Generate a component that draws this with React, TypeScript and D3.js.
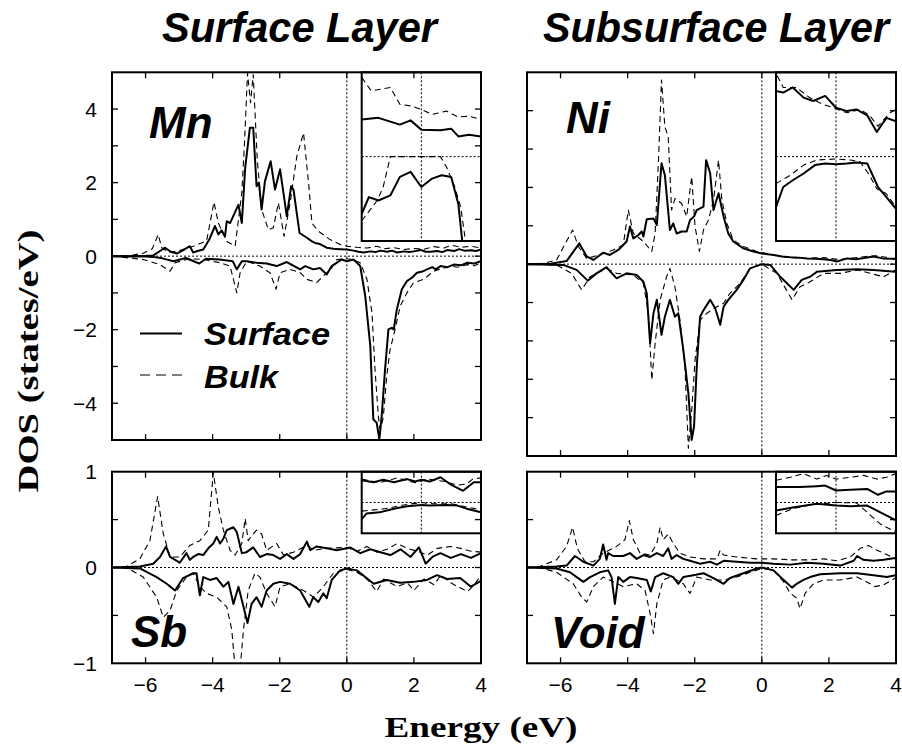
import React from 'react';
import * as d3 from 'd3';

type P = [number, number];

// ---------- tick values / labels ----------
const energyTicks = [-6, -4, -2, 0, 2, 4];
const upperDosTicks = [-4, -3, -2, -1, 0, 1, 2, 3, 4];
const upperDosLabels = [4, 2, 0, -2, -4];
const lowerDosTicks = [-0.5, 0, 0.5];
const lowerDosLabels = [1, 0, -1];
const columnTitles = ['Surface Layer', 'Subsurface Layer'];
const legendLabels = ['Surface', 'Bulk'];
const panelNames = ['Mn', 'Ni', 'Sb', 'Void'];

// ---------- Mn (surface layer, top) ----------
const mnUpSurface: P[] = [[-7,0],[-6.5,0],[-6.0,0.01],[-5.77,0.02],[-5.6,0.12],[-5.42,0.23],[-5.25,0.12],[-5.07,0.07],[-4.9,0.15],[-4.68,0.27],[-4.58,0.1],[-4.45,0.14],[-4.28,0.18],[-4.1,0.45],[-3.93,0.82],[-3.83,0.59],[-3.73,0.7],[-3.63,0.54],[-3.58,0.95],[-3.48,0.9],[-3.23,1.4],[-3.13,0.9],[-3.03,2.4],[-2.89,3.49],[-2.79,3.49],[-2.69,1.9],[-2.62,2.0],[-2.54,1.27],[-2.44,2.04],[-2.27,2.58],[-2.14,1.81],[-1.99,2.36],[-1.79,1.09],[-1.66,1.9],[-1.59,1.81],[-1.41,0.63],[-1.19,0.5],[-1.05,0.41],[-0.95,0.36],[-0.8,0.33],[-0.6,0.23],[-0.4,0.2],[-0.2,0.19],[0,0.18],[0.2,0.15],[0.35,0.12],[0.5,0.1],[0.7,0.13],[0.85,0.11],[1.0,0.15],[1.2,0.12],[1.35,0.15],[1.5,0.1],[1.7,0.13],[1.85,0.11],[2.0,0.13],[2.2,0.17],[2.35,0.12],[2.5,0.12],[2.7,0.14],[2.85,0.11],[3.0,0.17],[3.2,0.14],[3.35,0.19],[3.5,0.15],[3.7,0.16],[3.85,0.14],[4.0,0.18]];
const mnUpBulk: P[] = [[-7,0],[-6.5,0.01],[-6.07,0.08],[-5.8,0.2],[-5.62,0.59],[-5.52,0.23],[-5.3,0.1],[-5.0,0.15],[-4.58,0.27],[-4.18,0.41],[-3.96,1.47],[-3.83,0.9],[-3.58,0.4],[-3.33,0.27],[-3.13,1.72],[-3.05,3.08],[-2.96,4.98],[-2.87,4.17],[-2.79,4.94],[-2.67,2.63],[-2.54,1.27],[-2.34,0.72],[-2.19,0.77],[-2.04,1.45],[-1.87,0.54],[-1.69,1.45],[-1.49,2.72],[-1.29,3.35],[-1.14,1.99],[-1.04,0.9],[-0.85,0.68],[-0.5,0.45],[-0.2,0.32],[0,0.27],[0.3,0.24],[0.6,0.22],[0.9,0.27],[1.1,0.2],[1.4,0.23],[1.7,0.18],[2.0,0.21],[2.3,0.19],[2.6,0.26],[2.9,0.22],[3.1,0.3],[3.4,0.24],[3.7,0.27],[4.0,0.22]];
const mnDownSurface: P[] = [[-7,0],[-6.0,-0.01],[-5.77,-0.02],[-5.5,-0.06],[-5.17,-0.14],[-4.8,-0.05],[-4.4,-0.2],[-4.2,-0.07],[-3.8,-0.09],[-3.4,-0.14],[-3.28,-0.36],[-3.13,-0.14],[-2.98,-0.14],[-2.69,-0.18],[-2.39,-0.2],[-2.09,-0.27],[-1.79,-0.16],[-1.39,-0.36],[-1.24,-0.27],[-1.0,-0.36],[-0.8,-0.32],[-0.6,-0.5],[-0.45,-0.27],[-0.15,-0.09],[0,-0.14],[0.2,-0.09],[0.4,-0.27],[0.55,-1.09],[0.7,-2.45],[0.79,-4.44],[0.89,-4.53],[0.97,-4.98],[1.04,-4.35],[1.14,-3.08],[1.24,-1.99],[1.34,-1.95],[1.4,-1.99],[1.49,-1.45],[1.64,-0.9],[1.79,-0.68],[1.95,-0.58],[2.09,-0.45],[2.25,-0.42],[2.39,-0.36],[2.55,-0.3],[2.65,-0.36],[2.79,-0.27],[3.0,-0.3],[3.19,-0.23],[3.4,-0.25],[3.59,-0.18],[3.8,-0.2],[4.0,-0.14]];
const mnDownBulk: P[] = [[-7,0],[-6.07,-0.09],[-5.57,-0.23],[-5.27,-0.41],[-5.12,-0.18],[-4.68,-0.07],[-4.28,-0.09],[-3.78,-0.18],[-3.48,-0.27],[-3.28,-1.0],[-3.18,-0.45],[-2.98,-0.14],[-2.59,-0.27],[-2.29,-0.45],[-2.11,-0.9],[-1.99,-0.45],[-1.69,-0.36],[-1.39,-0.45],[-1.19,-0.63],[-0.9,-0.72],[-0.7,-0.54],[-0.45,-0.32],[-0.3,-0.09],[0,-0.07],[0.2,-0.1],[0.4,-0.18],[0.6,-0.63],[0.75,-1.54],[0.84,-3.08],[0.94,-4.35],[0.99,-4.71],[1.04,-4.6],[1.09,-4.35],[1.19,-3.26],[1.29,-2.54],[1.44,-1.99],[1.59,-1.36],[1.79,-1.0],[1.99,-0.72],[2.29,-0.63],[2.59,-0.41],[2.8,-0.35],[3.09,-0.27],[3.3,-0.3],[3.59,-0.23],[3.8,-0.26],[4.0,-0.18]];

// ---------- Ni (subsurface layer, top) ----------
const niUpSurface: P[] = [[-7,0],[-6.3,0.01],[-5.82,0.08],[-5.44,0.54],[-5.22,0.2],[-5.02,0.11],[-4.73,0.3],[-4.53,0.24],[-4.28,0.37],[-4.03,0.59],[-3.93,0.98],[-3.83,0.67],[-3.68,0.76],[-3.58,0.85],[-3.53,0.72],[-3.43,1.17],[-3.23,1.19],[-3.13,1.02],[-2.99,2.63],[-2.89,2.32],[-2.74,0.89],[-2.64,1.06],[-2.54,0.8],[-2.39,0.85],[-2.24,0.85],[-2.14,1.15],[-2.02,1.24],[-1.94,1.41],[-1.74,1.5],[-1.66,2.71],[-1.54,2.37],[-1.44,1.41],[-1.29,1.85],[-1.14,1.24],[-1.0,0.8],[-0.85,0.59],[-0.55,0.41],[-0.25,0.33],[0,0.28],[0.35,0.24],[0.6,0.2],[0.85,0.18],[1.1,0.17],[1.34,0.15],[1.6,0.14],[1.84,0.13],[2.05,0.11],[2.24,0.07],[2.54,0.15],[2.8,0.13],[3.05,0.16],[3.33,0.2],[3.6,0.15],[3.98,0.14]];
const niUpBulk: P[] = [[-7,0],[-6.5,0.02],[-6.12,0.11],[-5.64,0.89],[-5.47,0.46],[-5.22,0.15],[-4.83,0.24],[-4.43,0.37],[-4.13,0.5],[-3.98,1.41],[-3.83,0.8],[-3.53,0.59],[-3.28,0.33],[-3.18,0.8],[-3.08,2.71],[-2.99,4.8],[-2.89,3.58],[-2.79,3.32],[-2.69,1.41],[-2.59,1.71],[-2.39,1.58],[-2.24,1.24],[-2.09,2.28],[-1.99,0.98],[-1.86,0.33],[-1.74,0.89],[-1.59,1.15],[-1.44,1.67],[-1.29,2.71],[-1.19,1.67],[-1.04,1.06],[-0.85,0.63],[-0.55,0.46],[-0.15,0.33],[0.35,0.24],[0.8,0.18],[1.3,0.15],[1.84,0.17],[2.3,0.12],[2.7,0.16],[3.1,0.2],[3.4,0.22],[3.7,0.18],[3.98,0.12]];
const niDownSurface: P[] = [[-7,0],[-5.92,-0.02],[-5.52,-0.15],[-5.19,-0.43],[-4.93,-0.24],[-4.63,-0.08],[-4.33,-0.37],[-4.03,-0.24],[-3.73,-0.28],[-3.53,-0.46],[-3.43,-0.76],[-3.33,-2.06],[-3.23,-1.28],[-3.13,-0.93],[-2.99,-1.84],[-2.89,-1.37],[-2.74,-0.93],[-2.59,-1.37],[-2.49,-1.28],[-2.34,-2.24],[-2.19,-3.36],[-2.09,-4.58],[-2.02,-4.23],[-1.94,-2.67],[-1.84,-1.37],[-1.74,-1.2],[-1.54,-0.93],[-1.39,-1.15],[-1.24,-1.58],[-1.14,-1.11],[-1.0,-0.93],[-0.75,-0.67],[-0.55,-0.41],[-0.35,-0.11],[0,0],[0.25,-0.02],[0.55,-0.33],[0.95,-0.67],[1.19,-0.41],[1.44,-0.33],[1.64,-0.2],[2.24,-0.15],[2.84,-0.13],[3.33,-0.15],[3.98,-0.2]];
const niDownBulk: P[] = [[-7,0],[-6.12,-0.02],[-5.67,-0.24],[-5.37,-0.67],[-5.12,-0.33],[-4.63,-0.11],[-4.33,-0.24],[-3.83,-0.28],[-3.53,-0.5],[-3.38,-1.28],[-3.28,-3.02],[-3.18,-2.06],[-3.03,-0.93],[-2.84,-0.33],[-2.74,-0.11],[-2.59,-0.59],[-2.44,-1.46],[-2.29,-2.67],[-2.19,-4.8],[-2.09,-3.8],[-1.99,-2.5],[-1.84,-1.46],[-1.64,-1.28],[-1.34,-1.11],[-1.14,-1.02],[-0.95,-0.76],[-0.65,-0.5],[-0.35,-0.11],[0,0],[0.45,-0.24],[0.9,-0.93],[1.14,-0.59],[1.44,-0.46],[1.84,-0.24],[2.34,-0.24],[2.84,-0.15],[3.63,-0.33],[3.98,-0.15]];

// ---------- Sb (surface layer, bottom) ----------
const sbUpSurface: P[] = [[-7,0],[-6.17,0.01],[-5.77,0.04],[-5.57,0.11],[-5.39,0.22],[-5.27,0.11],[-4.98,0.05],[-4.78,0.15],[-4.68,0.08],[-4.58,0.11],[-4.43,0.14],[-4.28,0.13],[-4.13,0.2],[-3.98,0.25],[-3.88,0.32],[-3.78,0.25],[-3.68,0.3],[-3.58,0.39],[-3.38,0.42],[-3.28,0.37],[-3.13,0.15],[-2.99,0.16],[-2.79,0.21],[-2.59,0.11],[-2.39,0.14],[-2.19,0.13],[-1.99,0.09],[-1.79,0.14],[-1.59,0.09],[-1.39,0.14],[-1.19,0.27],[-1.09,0.18],[-0.9,0.22],[-0.6,0.2],[-0.3,0.18],[0,0.2],[0.1,0.21],[0.4,0.15],[0.7,0.19],[1.0,0.16],[1.3,0.13],[1.6,0.19],[1.9,0.11],[2.15,0.21],[2.35,0.04],[2.55,0.11],[2.79,0.15],[3.1,0.1],[3.4,0.14],[3.7,0.1],[4.0,0.15]];
const sbUpBulk: P[] = [[-7,0],[-6.57,0.01],[-6.17,0.09],[-5.87,0.28],[-5.64,0.74],[-5.47,0.35],[-5.27,0.11],[-4.98,0.11],[-4.68,0.23],[-4.38,0.28],[-4.13,0.39],[-3.98,0.99],[-3.83,0.63],[-3.68,0.39],[-3.48,0.18],[-3.33,0.13],[-3.13,0.25],[-3.03,0.51],[-2.94,0.28],[-2.79,0.35],[-2.69,0.39],[-2.54,0.35],[-2.39,0.18],[-2.09,0.25],[-1.89,0.13],[-1.59,0.16],[-1.19,0.23],[-0.99,0.18],[-0.6,0.2],[0,0.21],[0.3,0.17],[0.6,0.22],[0.9,0.16],[1.2,0.19],[1.5,0.25],[1.8,0.2],[2.1,0.17],[2.4,0.13],[2.7,0.2],[3.1,0.22],[3.4,0.2],[3.7,0.17],[4.0,0.16]];
const sbDownSurface: P[] = [[-7,0],[-6.17,-0.01],[-5.67,-0.1],[-5.37,-0.17],[-5.12,-0.24],[-4.88,-0.11],[-4.58,-0.06],[-4.48,-0.06],[-4.38,-0.29],[-4.28,-0.1],[-4.08,-0.13],[-3.88,-0.11],[-3.68,-0.2],[-3.53,-0.15],[-3.38,-0.38],[-3.23,-0.2],[-3.08,-0.41],[-2.96,-0.58],[-2.84,-0.38],[-2.69,-0.31],[-2.54,-0.41],[-2.39,-0.24],[-2.19,-0.17],[-1.99,-0.15],[-1.69,-0.17],[-1.39,-0.24],[-1.12,-0.41],[-1.0,-0.31],[-0.85,-0.36],[-0.7,-0.27],[-0.6,-0.32],[-0.45,-0.13],[-0.2,-0.03],[0,-0.01],[0.3,-0.03],[0.8,-0.17],[1.19,-0.13],[1.59,-0.16],[1.99,-0.15],[2.39,-0.13],[2.69,-0.08],[2.99,-0.12],[3.38,-0.11],[3.7,-0.2],[4.0,-0.14]];
const sbDownBulk: P[] = [[-7,0],[-6.57,0],[-6.07,-0.1],[-5.67,-0.31],[-5.47,-0.52],[-5.27,-0.45],[-5.07,-0.24],[-4.78,-0.1],[-4.58,-0.06],[-4.38,-0.2],[-4.18,-0.27],[-3.88,-0.31],[-3.58,-0.41],[-3.43,-0.65],[-3.33,-1.05],[-3.18,-1.05],[-3.08,-0.65],[-2.94,-0.24],[-2.74,-0.06],[-2.59,-0.1],[-2.39,-0.27],[-2.14,-0.41],[-1.99,-0.2],[-1.69,-0.17],[-1.29,-0.24],[-0.99,-0.31],[-0.7,-0.2],[-0.4,-0.06],[0,-0.02],[0.3,-0.05],[0.6,-0.12],[0.89,-0.25],[1.1,-0.12],[1.4,-0.18],[1.5,-0.2],[1.8,-0.16],[2.0,-0.24],[2.3,-0.12],[2.6,-0.18],[2.8,-0.08],[3.1,-0.16],[3.3,-0.2],[3.6,-0.25],[3.8,-0.18],[4.0,-0.08]];

// ---------- Void (subsurface layer, bottom) ----------
const voidUpSurface: P[] = [[-7,0],[-6.12,0.01],[-5.82,0.02],[-5.57,0.12],[-5.32,0.06],[-5.02,0.02],[-4.83,0.09],[-4.73,0.24],[-4.63,0.08],[-4.58,0.15],[-4.43,0.12],[-4.13,0.12],[-3.93,0.15],[-3.73,0.09],[-3.53,0.13],[-3.33,0.11],[-3.13,0.15],[-2.94,0.12],[-2.79,0.2],[-2.69,0.09],[-2.54,0.13],[-2.34,0.09],[-2.14,0.07],[-1.84,0.04],[-1.54,0.06],[-1.34,0.03],[-1.14,0.07],[-0.75,0.06],[-0.35,0.05],[0,0.05],[0.35,0.04],[0.85,0.03],[1.34,0.05],[1.84,0.04],[2.34,0.02],[2.74,0.07],[2.84,0.12],[3.03,0.08],[3.33,0.07],[3.63,0.08],[3.98,0.1]];
const voidUpBulk: P[] = [[-7,0],[-6.62,0.01],[-6.12,0.08],[-5.82,0.22],[-5.64,0.42],[-5.5,0.2],[-5.27,0.06],[-5.02,0.06],[-4.73,0.15],[-4.33,0.22],[-4.08,0.29],[-3.95,0.49],[-3.83,0.29],[-3.63,0.15],[-3.33,0.13],[-3.13,0.25],[-3.03,0.42],[-2.94,0.29],[-2.79,0.35],[-2.64,0.25],[-2.44,0.15],[-2.14,0.11],[-1.74,0.09],[-1.34,0.09],[-1.24,0.18],[-1.14,0.13],[-0.75,0.11],[-0.15,0.09],[0.35,0.09],[0.85,0.08],[1.44,0.08],[1.84,0.09],[2.24,0.07],[2.64,0.11],[2.94,0.2],[3.18,0.23],[3.43,0.18],[3.63,0.15],[3.98,0.09]];
const voidDownSurface: P[] = [[-7,0],[-6.12,-0.01],[-5.72,-0.05],[-5.32,-0.15],[-5.12,-0.1],[-4.83,-0.05],[-4.58,-0.03],[-4.48,-0.1],[-4.38,-0.38],[-4.28,-0.1],[-4.13,-0.15],[-3.93,-0.1],[-3.73,-0.11],[-3.43,-0.13],[-3.31,-0.25],[-3.18,-0.1],[-2.94,-0.06],[-2.64,-0.1],[-2.49,-0.17],[-2.34,-0.1],[-2.04,-0.08],[-1.74,-0.06],[-1.44,-0.11],[-1.14,-0.17],[-0.95,-0.11],[-0.55,-0.06],[-0.15,-0.01],[0,0],[0.35,-0.03],[0.65,-0.13],[0.9,-0.21],[1.04,-0.17],[1.24,-0.13],[1.44,-0.1],[1.74,-0.07],[2.34,-0.06],[2.84,-0.06],[3.33,-0.08],[3.73,-0.1],[3.98,-0.08]];
const voidDownBulk: P[] = [[-7,0],[-6.62,0],[-6.12,-0.05],[-5.62,-0.17],[-5.37,-0.31],[-5.22,-0.36],[-5.02,-0.2],[-4.73,-0.1],[-4.43,-0.15],[-4.13,-0.2],[-3.73,-0.17],[-3.48,-0.24],[-3.33,-0.48],[-3.23,-0.69],[-3.13,-0.38],[-2.94,-0.13],[-2.74,-0.1],[-2.54,-0.13],[-2.34,-0.17],[-2.14,-0.27],[-1.94,-0.1],[-1.54,-0.13],[-1.14,-0.13],[-0.75,-0.1],[-0.35,-0.05],[0,-0.01],[0.35,-0.03],[0.65,-0.15],[0.85,-0.27],[1.04,-0.32],[1.14,-0.43],[1.29,-0.27],[1.54,-0.17],[1.84,-0.13],[2.34,-0.13],[2.84,-0.1],[3.23,-0.17],[3.38,-0.2],[3.63,-0.18],[3.98,-0.11]];

// ---------- insets (zoom around the Fermi level) ----------
const mnInsetUpSurface: P[] = [[-0.5,0.22],[-0.36,0.23],[-0.18,0.19],[-0.09,0.215],[0,0.16],[0.16,0.156],[0.25,0.166],[0.31,0.12],[0.4,0.13],[0.5,0.12]];
const mnInsetUpBulk: P[] = [[-0.5,0.47],[-0.42,0.39],[-0.26,0.41],[-0.18,0.31],[-0.08,0.3],[0,0.28],[0.09,0.25],[0.21,0.27],[0.31,0.235],[0.4,0.24],[0.5,0.22]];
const mnInsetDownSurface: P[] = [[-0.5,-0.34],[-0.44,-0.24],[-0.36,-0.26],[-0.26,-0.23],[-0.18,-0.12],[-0.09,-0.09],[0,-0.18],[0.09,-0.13],[0.17,-0.11],[0.25,-0.12],[0.31,-0.28],[0.35,-0.55]];
const mnInsetDownBulk: P[] = [[-0.5,-0.38],[-0.37,-0.26],[-0.32,-0.18],[-0.28,-0.06],[-0.26,0],[0.16,0],[0.21,-0.06],[0.28,-0.18],[0.33,-0.3],[0.38,-0.55]];
const niInsetUpSurface: P[] = [[-0.5,0.39],[-0.44,0.38],[-0.36,0.41],[-0.27,0.35],[-0.19,0.33],[-0.09,0.36],[0,0.29],[0.09,0.27],[0.17,0.28],[0.26,0.245],[0.34,0.146],[0.42,0.23],[0.5,0.21]];
const niInsetUpBulk: P[] = [[-0.49,0.48],[-0.44,0.41],[-0.33,0.41],[-0.22,0.35],[-0.11,0.31],[-0.02,0.29],[0.09,0.26],[0.2,0.28],[0.28,0.245],[0.35,0.18],[0.45,0.26],[0.5,0.28]];
const niInsetDownSurface: P[] = [[-0.5,-0.3],[-0.44,-0.18],[-0.36,-0.14],[-0.27,-0.1],[-0.175,-0.05],[-0.09,-0.04],[0,-0.045],[0.09,-0.04],[0.17,-0.034],[0.26,-0.04],[0.35,-0.18],[0.42,-0.24],[0.5,-0.31]];
const niInsetDownBulk: P[] = [[-0.5,-0.16],[-0.38,-0.11],[-0.27,-0.05],[-0.16,-0.02],[0,-0.014],[0.12,-0.02],[0.2,-0.03],[0.27,-0.1],[0.34,-0.19],[0.42,-0.22],[0.5,-0.3]];
const sbInsetUpSurface: P[] = [[-0.5,0.36],[-0.4,0.33],[-0.32,0.37],[-0.23,0.33],[-0.12,0.38],[-0.05,0.34],[0,0.37],[0.07,0.34],[0.16,0.41],[0.24,0.3],[0.35,0.19],[0.44,0.33],[0.5,0.33]];
const sbInsetUpBulk: P[] = [[-0.5,0.38],[-0.35,0.32],[-0.2,0.4],[-0.05,0.32],[0.05,0.38],[0.2,0.34],[0.3,0.28],[0.38,0.3],[0.43,0.38],[0.5,0.4]];
const sbInsetDownSurface: P[] = [[-0.5,-0.27],[-0.46,-0.18],[-0.35,-0.16],[-0.23,-0.1],[-0.12,-0.06],[0,-0.04],[0.07,-0.05],[0.21,-0.04],[0.3,-0.05],[0.38,-0.1],[0.5,-0.16]];
const sbInsetDownBulk: P[] = [[-0.5,-0.14],[-0.4,-0.12],[-0.3,-0.1],[-0.15,-0.04],[0,0],[0.1,-0.02],[0.25,-0.02],[0.35,-0.06],[0.45,-0.1],[0.5,-0.12]];
const voidInsetUpSurface: P[] = [[-0.5,0.25],[-0.3,0.25],[-0.16,0.265],[-0.09,0.275],[0,0.195],[0.12,0.205],[0.26,0.22],[0.35,0.125],[0.42,0.18],[0.5,0.18]];
const voidInsetUpBulk: P[] = [[-0.5,0.36],[-0.38,0.41],[-0.27,0.47],[-0.16,0.38],[-0.08,0.44],[0,0.38],[0.12,0.41],[0.23,0.44],[0.34,0.38],[0.42,0.41],[0.5,0.47]];
const voidInsetDownSurface: P[] = [[-0.5,-0.13],[-0.36,-0.08],[-0.16,-0.02],[0,-0.05],[0.12,-0.06],[0.26,-0.05],[0.37,-0.16],[0.5,-0.29]];
const voidInsetDownBulk: P[] = [[-0.5,-0.21],[-0.36,-0.1],[-0.22,-0.04],[0,0],[0.17,-0.005],[0.26,-0.16],[0.37,-0.35],[0.5,-0.48]];

type Box = { x0: number; x1: number; y0: number; y1: number };
type SeriesSet = { upS: P[]; upB: P[]; dnS: P[]; dnB: P[] };

const FONT_SANS = '"Liberation Sans", Arial, Helvetica, sans-serif';
const FONT_SERIF = '"Liberation Serif", "Times New Roman", serif';
const DASH = '6,4';
const DOT = '2,2';

function Curves({ s, xs, ys, clip }: { s: SeriesSet; xs: any; ys: any; clip: string }) {
  const line = d3.line<P>().x(d => xs(d[0])).y(d => ys(d[1]));
  return (
    <g clipPath={`url(#${clip})`} fill="none" stroke="#000" strokeLinejoin="round">
      <path d={line(s.upB) || ''} strokeWidth={1.1} strokeDasharray={DASH} />
      <path d={line(s.dnB) || ''} strokeWidth={1.1} strokeDasharray={DASH} />
      <path d={line(s.upS) || ''} strokeWidth={2} />
      <path d={line(s.dnS) || ''} strokeWidth={2} />
    </g>
  );
}

function Panel(props: {
  id: string; box: Box; yDomain: [number, number]; yTicks: number[]; yLabels?: number[];
  xLabels: boolean; series: SeriesSet; inset: { box: Box; series: SeriesSet };
  name: string; nameX: number; nameY: number; legend?: boolean;
}) {
  const { id, box, yDomain, yTicks, yLabels, xLabels, series, inset, name, nameX, nameY, legend } = props;
  const xs = d3.scaleLinear().domain([-7, 4]).range([box.x0, box.x1]);
  const ys = d3.scaleLinear().domain(yDomain).range([box.y1, box.y0]);
  const ixs = d3.scaleLinear().domain([-0.5, 0.5]).range([inset.box.x0, inset.box.x1]);
  const iys = d3.scaleLinear().domain([-0.5, 0.5]).range([inset.box.y1, inset.box.y0]);
  const T = 6;
  const allYTicks = [...yTicks];
  return (
    <g>
      <defs>
        <clipPath id={`${id}-clip`}>
          <rect x={box.x0} y={box.y0} width={box.x1 - box.x0} height={box.y1 - box.y0} />
        </clipPath>
        <clipPath id={`${id}-iclip`}>
          <rect x={inset.box.x0} y={inset.box.y0} width={inset.box.x1 - inset.box.x0} height={inset.box.y1 - inset.box.y0} />
        </clipPath>
      </defs>
      {/* zero lines */}
      <line x1={box.x0} x2={box.x1} y1={ys(0)} y2={ys(0)} stroke="#000" strokeWidth={1} strokeDasharray={DOT} />
      <line x1={xs(0)} x2={xs(0)} y1={box.y0} y2={box.y1} stroke="#000" strokeWidth={1} strokeDasharray={DOT} />
      <Curves s={series} xs={xs} ys={ys} clip={`${id}-clip`} />
      {/* inset */}
      <rect x={inset.box.x0} y={inset.box.y0} width={inset.box.x1 - inset.box.x0} height={inset.box.y1 - inset.box.y0} fill="#fff" />
      <line x1={inset.box.x0} x2={inset.box.x1} y1={iys(0)} y2={iys(0)} stroke="#000" strokeWidth={1} strokeDasharray={DOT} />
      <line x1={ixs(0)} x2={ixs(0)} y1={inset.box.y0} y2={inset.box.y1} stroke="#000" strokeWidth={1} strokeDasharray={DOT} />
      <Curves s={inset.series} xs={ixs} ys={iys} clip={`${id}-iclip`} />
      <rect x={inset.box.x0} y={inset.box.y0} width={inset.box.x1 - inset.box.x0} height={inset.box.y1 - inset.box.y0} fill="none" stroke="#000" strokeWidth={2} />
      {/* frame */}
      <rect x={box.x0} y={box.y0} width={box.x1 - box.x0} height={box.y1 - box.y0} fill="none" stroke="#000" strokeWidth={2} />
      {/* ticks */}
      <g stroke="#000" strokeWidth={1.3}>
        {energyTicks.map(t => (
          <g key={`xt${t}`}>
            <line x1={xs(t)} x2={xs(t)} y1={box.y1} y2={box.y1 - T} />
            <line x1={xs(t)} x2={xs(t)} y1={box.y0} y2={box.y0 + T} />
          </g>
        ))}
        {allYTicks.map(t => (
          <g key={`yt${t}`}>
            <line x1={box.x0} x2={box.x0 + T} y1={ys(t)} y2={ys(t)} />
            <line x1={box.x1} x2={box.x1 - T} y1={ys(t)} y2={ys(t)} />
          </g>
        ))}
      </g>
      {yLabels && yLabels.map(t => (
        <text key={`yl${t}`} x={box.x0 - 15} y={ys(t)} dy="0.36em" textAnchor="end" fontFamily={FONT_SANS} fontSize={21}>
          {t < 0 ? `\u2212${Math.abs(t)}` : `${t}`}
        </text>
      ))}
      {xLabels && energyTicks.map(t => (
        <text key={`xl${t}`} x={xs(t)} y={box.y1 + 29} textAnchor="middle" fontFamily={FONT_SANS} fontSize={21}>
          {t < 0 ? `\u2212${Math.abs(t)}` : `${t}`}
        </text>
      ))}
      <text x={nameX} y={nameY} fontFamily={FONT_SANS} fontWeight="bold" fontStyle="italic" fontSize={44}>{name}</text>
      {legend && (
        <g>
          <line x1={140} x2={182} y1={333.5} y2={333.5} stroke="#000" strokeWidth={2} />
          <line x1={140} x2={182} y1={375} y2={375} stroke="#000" strokeWidth={1.1} strokeDasharray="10,6" />
          <text x={204} y={345} fontFamily={FONT_SANS} fontWeight="bold" fontStyle="italic" fontSize={31} textLength={126} lengthAdjust="spacingAndGlyphs">{legendLabels[0]}</text>
          <text x={204} y={388} fontFamily={FONT_SANS} fontWeight="bold" fontStyle="italic" fontSize={31} textLength={74} lengthAdjust="spacingAndGlyphs">{legendLabels[1]}</text>
        </g>
      )}
    </g>
  );
}

export default function App() {
  const W = 902, H = 751;
  const leftX: [number, number] = [112, 481];
  const rightX: [number, number] = [527, 896];
  return (
    <svg width={W} height={H} viewBox={`0 0 ${W} ${H}`} style={{ position: 'absolute', left: 0, top: 0, background: '#fff' }}>
      <rect x={0} y={0} width={W} height={H} fill="#fff" />
      <text x={299.5} y={42} textAnchor="middle" fontFamily={FONT_SANS} fontWeight="bold" fontStyle="italic" fontSize={42} textLength={275} lengthAdjust="spacingAndGlyphs">{columnTitles[0]}</text>
      <text x={716} y={42} textAnchor="middle" fontFamily={FONT_SANS} fontWeight="bold" fontStyle="italic" fontSize={42} textLength={346} lengthAdjust="spacingAndGlyphs">{columnTitles[1]}</text>
      <Panel id="mn" box={{ x0: leftX[0], x1: leftX[1], y0: 72.3, y1: 440 }} yDomain={[-5, 5]} yTicks={upperDosTicks} yLabels={upperDosLabels} xLabels={false}
        series={{ upS: mnUpSurface, upB: mnUpBulk, dnS: mnDownSurface, dnB: mnDownBulk }}
        inset={{ box: { x0: 361.7, x1: 481, y0: 72.3, y1: 241 }, series: { upS: mnInsetUpSurface, upB: mnInsetUpBulk, dnS: mnInsetDownSurface, dnB: mnInsetDownBulk } }}
        name={panelNames[0]} nameX={149} nameY={138.3} legend />
      <Panel id="ni" box={{ x0: rightX[0], x1: rightX[1], y0: 72.3, y1: 456 }} yDomain={[-5, 5]} yTicks={upperDosTicks} xLabels={false}
        series={{ upS: niUpSurface, upB: niUpBulk, dnS: niDownSurface, dnB: niDownBulk }}
        inset={{ box: { x0: 776, x1: 896, y0: 72.3, y1: 241 }, series: { upS: niInsetUpSurface, upB: niInsetUpBulk, dnS: niInsetDownSurface, dnB: niInsetDownBulk } }}
        name={panelNames[1]} nameX={566} nameY={132.7} />
      <Panel id="sb" box={{ x0: leftX[0], x1: leftX[1], y0: 471.7, y1: 663.3 }} yDomain={[-1, 1]} yTicks={lowerDosTicks} yLabels={lowerDosLabels} xLabels
        series={{ upS: sbUpSurface, upB: sbUpBulk, dnS: sbDownSurface, dnB: sbDownBulk }}
        inset={{ box: { x0: 361.7, x1: 481, y0: 471.7, y1: 533.3 }, series: { upS: sbInsetUpSurface, upB: sbInsetUpBulk, dnS: sbInsetDownSurface, dnB: sbInsetDownBulk } }}
        name={panelNames[2]} nameX={131} nameY={646.7} />
      <Panel id="void" box={{ x0: rightX[0], x1: rightX[1], y0: 471.7, y1: 663.3 }} yDomain={[-1, 1]} yTicks={lowerDosTicks} xLabels
        series={{ upS: voidUpSurface, upB: voidUpBulk, dnS: voidDownSurface, dnB: voidDownBulk }}
        inset={{ box: { x0: 776, x1: 896, y0: 471.7, y1: 533.3 }, series: { upS: voidInsetUpSurface, upB: voidInsetUpBulk, dnS: voidInsetDownSurface, dnB: voidInsetDownBulk } }}
        name={panelNames[3]} nameX={551} nameY={648.3} />
      <text transform="translate(38,361) rotate(-90)" textAnchor="middle" fontFamily={FONT_SERIF} fontWeight="bold" fontSize={30} textLength={263} lengthAdjust="spacingAndGlyphs">DOS (states/eV)</text>
      <text x={481} y={737} textAnchor="middle" fontFamily={FONT_SERIF} fontWeight="bold" fontSize={30} textLength={193} lengthAdjust="spacingAndGlyphs">Energy (eV)</text>
    </svg>
  );
}
